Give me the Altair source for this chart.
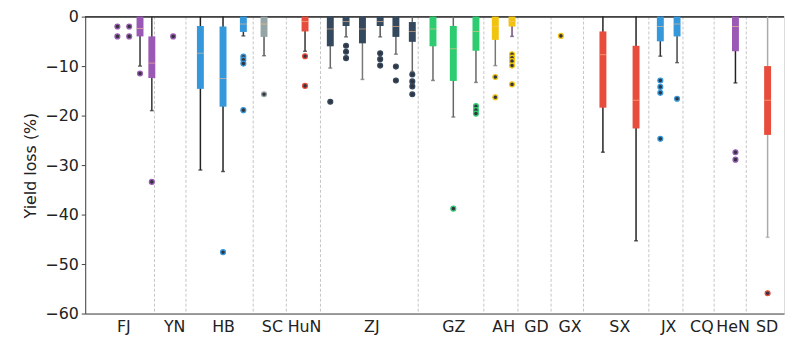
import json
import altair as alt
import pandas as pd

# ---- data ----
groups = ["FJ", "YN", "HB", "SC", "HuN", "ZJ", "GZ", "AH", "GD", "GX", "SX", "JX", "CQ", "HeN", "SD"]
label_pos = [1.01, 2.56, 4.05, 5.54, 6.52, 8.57, 11.07, 12.59, 13.59, 14.61, 16.13, 17.62, 18.63, 19.58, 20.62]
separators = [1.96, 2.92, 4.97, 5.98, 7.02, 10.0, 12.0, 13.04, 14.05, 15.04, 17.03, 18.07, 19.02, 20.0]

palette = {
    "FJ": "#9b59b6", "YN": "#9b59b6", "HB": "#3498db", "SC": "#95a5a6", "HuN": "#e74c3c",
    "ZJ": "#34495e", "GZ": "#2ecc71", "AH": "#f1c40f", "GX": "#f1c40f", "SX": "#e74c3c",
    "JX": "#3498db", "HeN": "#9b59b6", "SD": "#e74c3c",
}

box_group = ["FJ", "FJ", "FJ", "FJ", "YN", "HB", "HB", "HB", "SC", "HuN",
             "ZJ", "ZJ", "ZJ", "ZJ", "ZJ", "ZJ", "GZ", "GZ", "GZ", "AH", "AH",
             "GX", "SX", "SX", "JX", "JX", "HeN", "SD"]
box_pos = [0.83, 1.19, 1.52, 1.88, 2.53, 3.36, 4.05, 4.67, 5.30, 6.55,
           7.32, 7.80, 8.30, 8.84, 9.32, 9.82, 10.45, 11.07, 11.76, 12.35, 12.86,
           14.35, 15.63, 16.64, 17.38, 17.89, 19.67, 20.65]
box_hi = [None, None, 0, -4.0, None, -1.9, -2.0, 0, 0, 0,
          0, 0, 0, 0, 0, -1.1, 0, -1.9, 0, 0, 0,
          None, -3.0, -5.9, 0, 0, 0, -10.0]
box_lo = [None, None, -4.0, -12.4, None, -14.6, -18.2, -3.1, -4.1, -3.0,
          -6.0, -1.9, -5.4, -1.9, -4.1, -5.1, -6.0, -13.0, -6.9, -4.7, -2.0,
          None, -18.4, -22.6, -5.0, -4.0, -7.0, -23.9]
box_med = [None, None, -2.4, -9.4, None, -7.4, -12.5, -1.5, -1.5, -1.0,
           -2.5, -1.0, -2.5, -1.0, -2.0, -3.0, -2.5, -6.5, -3.0, -2.0, -1.0,
           None, -7.7, -16.9, -2.0, -1.5, -2.0, -16.9]
whisk_hi = [None, None, 0, 0, None, 0, 0, 0, 0, 0,
            0, 0, 0, 0, 0, 0, 0, 0, 0, 0, 0,
            None, 0, 0, 0, 0, 0, 0]
whisk_lo = [None, None, -10.0, -19.0, None, -31.0, -31.3, -3.9, -7.9, -7.0,
            -10.4, -4.1, -12.7, -4.1, -7.6, -11.1, -12.9, -20.3, -13.3, -9.9, -4.0,
            None, -27.4, -45.3, -8.0, -9.3, -13.4, -44.6]
whisk_color = ["#333333", "#333333", "#333333", "#333333", "#333333", "#222222", "#222222", "#333333", "#555555", "#333333",
               "#666666", "#555555", "#777777", "#555555", "#666666", "#666666", "#666666", "#666666", "#666666", "#777777", "#6a4a7a",
               "#333333", "#222222", "#222222", "#333333", "#444444", "#222222", "#aaaaaa"]
fliers = [[-2.0, -4.0], [-2.0, -4.0], [-11.5], [-33.4], [-4.0], [], [-47.6], [-8.1, -8.7, -9.5, -18.9], [-15.7], [-8.0, -14.0],
          [-17.2], [-5.9, -7.1, -8.4], [], [-7.4, -8.6, -9.9], [-10.1, -12.9], [-11.7, -13.1, -14.1, -15.7],
          [], [-38.8], [-18.1, -18.9, -19.6], [-12.2, -16.3], [-7.6, -8.3, -9.0, -9.9, -13.7],
          [-3.9], [], [], [-12.9, -14.2, -15.4, -24.7], [-16.6], [-27.4, -28.9], [-55.9]]

# ---- tables ----
boxes = pd.DataFrame({
    "group": box_group, "pos": box_pos, "hi": box_hi, "lo": box_lo, "med": box_med,
    "whi": whisk_hi, "wlo": whisk_lo, "wcol": whisk_color,
})
boxes["color"] = boxes["group"].map(palette)
boxes = boxes.dropna(subset=["hi"])

fl_rows = []
for g, p, fs in zip(box_group, box_pos, fliers):
    for v in fs:
        fl_rows.append({"group": g, "pos": p, "val": v, "color": palette[g]})
fl = pd.DataFrame(fl_rows)
seps = pd.DataFrame({"pos": separators})

xscale = alt.Scale(domain=[0, 21.0], nice=False, zero=False)
yscale = alt.Scale(domain=[-60, 0], nice=False, zero=False)

label_expr = f"{json.dumps(groups)}[indexof({json.dumps(label_pos)}, datum.value)]"

xaxis = alt.Axis(values=label_pos, labelExpr=label_expr, title=None, grid=False, ticks=False,
                 labelFontSize=16, labelFont="DejaVu Sans", labelColor="#222222", labelPadding=5,
                 domainColor="#444444", labelFlush=False, labelOverlap=False)
yaxis = alt.Axis(values=[0, -10, -20, -30, -40, -50, -60], title="Yield loss (%)", grid=False,
                 labelFontSize=16, labelFont="DejaVu Sans", labelColor="#222222",
                 titleFontSize=16, titleFont="DejaVu Sans", titleFontWeight="normal", titleColor="#222222",
                 titlePadding=6, tickSize=4, tickColor="#444444", domainColor="#444444", labelPadding=3)

base_x = alt.X("pos:Q", scale=xscale, axis=xaxis)

sep_layer = alt.Chart(seps).mark_rule(color="#c4c4c4", strokeWidth=1, strokeDash=[3, 2]).encode(
    x=alt.X("pos:Q", scale=xscale, axis=xaxis)
)
top_spine = alt.Chart(seps).mark_rule(color="#444444", strokeWidth=1).encode(
    y=alt.datum(0, scale=yscale, axis=yaxis)
)
whiskers = alt.Chart(boxes).mark_rule(strokeWidth=1.5).encode(
    x=base_x,
    y=alt.Y("wlo:Q", scale=yscale, axis=yaxis),
    y2="whi:Q",
    color=alt.Color("wcol:N", scale=None),
)
caps = alt.Chart(boxes).mark_tick(orient="horizontal", size=4, thickness=1.5).encode(
    x=base_x,
    y=alt.Y("wlo:Q", scale=yscale, axis=yaxis),
    color=alt.Color("wcol:N", scale=None),
)
box_layer = alt.Chart(boxes).mark_bar(size=7).encode(
    x=base_x,
    y=alt.Y("lo:Q", scale=yscale, axis=yaxis),
    y2="hi:Q",
    color=alt.Color("color:N", scale=None),
)
medians = alt.Chart(boxes).mark_tick(orient="horizontal", size=7, thickness=1, color="#ffc08a", opacity=0.6).encode(
    x=base_x,
    y=alt.Y("med:Q", scale=yscale, axis=yaxis),
)
points = alt.Chart(fl).mark_point(filled=False, size=24, strokeWidth=1.3, fill="#34343f", fillOpacity=1).encode(
    x=base_x,
    y=alt.Y("val:Q", scale=yscale, axis=yaxis),
    stroke=alt.Color("color:N", scale=None),
)

chart = alt.layer(sep_layer, top_spine, whiskers, box_layer, medians, caps, points).properties(
    width=706, height=300,
    padding={"left": 78, "top": 7, "right": 3, "bottom": 22},
    autosize=alt.AutoSizeParams(type="none"),
).configure_view(stroke=None).configure(background="white")

chart.save("out.html", embed_options={"renderer": "svg", "actions": False})
